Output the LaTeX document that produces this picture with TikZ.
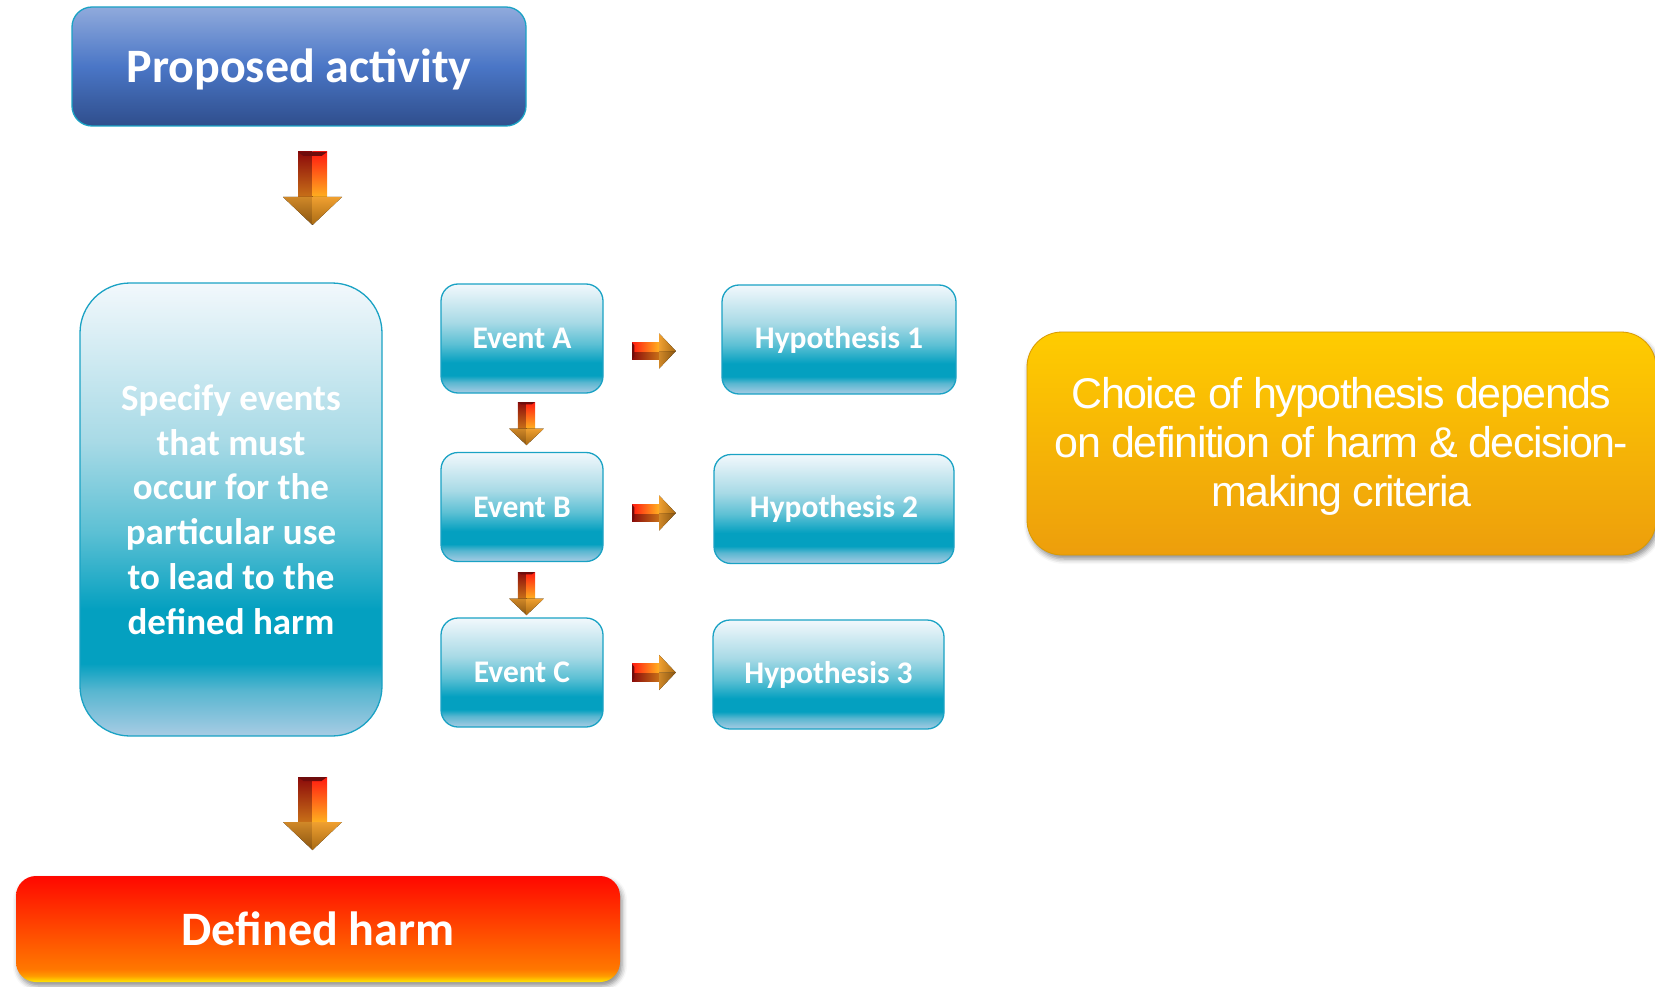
\documentclass[tikz,border=0pt]{standalone}
\usepackage{fontspec}
\setmainfont{Carlito}
\newfontfamily\notefont{Liberation Sans}[LetterSpace=-3.5]
\usetikzlibrary{calc,shadows.blur}

% box colours
\definecolor{tlA}{HTML}{A8CCE4}
\definecolor{tlB}{HTML}{58B6D0}
\definecolor{tlC}{HTML}{04A0C0}
\definecolor{tlD}{HTML}{5CC0D4}
\definecolor{tlE}{HTML}{A8DAE6}
\definecolor{tlF}{HTML}{F2F8FC}
\definecolor{tealedge}{HTML}{1AA2C4}
\definecolor{blA}{HTML}{2F4E8C}
\definecolor{blB}{HTML}{4A76C6}
\definecolor{blC}{HTML}{90AADC}
\definecolor{ylA}{HTML}{ED9E0C}
\definecolor{ylB}{HTML}{FFCC00}
\definecolor{ylEdge}{HTML}{D99A00}
\definecolor{rdA}{HTML}{FFE600}
\definecolor{rdB}{HTML}{FF9A00}
\definecolor{rdC}{HTML}{FF7800}
\definecolor{rdD}{HTML}{FF0800}
% block arrow colours
\definecolor{arLtop}{HTML}{8C0A0A}
\definecolor{arLbot}{HTML}{C87018}
\definecolor{arRtop}{HTML}{FF1A10}
\definecolor{arRbot}{HTML}{FFB020}
\definecolor{arCap}{HTML}{6E0C0C}
\definecolor{arHLtop}{HTML}{D08828}
\definecolor{arHLbot}{HTML}{8A5510}
\definecolor{arHRtop}{HTML}{F0A030}
\definecolor{arHRbot}{HTML}{A86A14}

\pgfdeclareverticalshading{tealgloss}{100bp}{color(0bp)=(tlA); color(25bp)=(tlA);
  color(30bp)=(tlB); color(33bp)=(tlC); color(39bp)=(tlC); color(47.5bp)=(tlD);
  color(57.5bp)=(tlE); color(75bp)=(tlF); color(100bp)=(tlF)}
\pgfdeclareverticalshading{bluegloss}{100bp}{color(0bp)=(blA); color(25bp)=(blA);
  color(50bp)=(blB); color(75bp)=(blC); color(100bp)=(blC)}
\pgfdeclareverticalshading{ambergloss}{100bp}{color(0bp)=(ylA); color(25bp)=(ylA);
  color(75bp)=(ylB); color(100bp)=(ylB)}
\pgfdeclareverticalshading{firegloss}{100bp}{color(0bp)=(rdA); color(25bp)=(rdA);
  color(28bp)=(rdB); color(31bp)=(rdC); color(75bp)=(rdD); color(100bp)=(rdD)}

% 3D block arrow: #1 tail position, #2 rotation, #3 scale, #4 shading angle
\newcommand\blockarrow[4]{%
  \begin{scope}[shift={#1},rotate=#2,scale=#3]
    \fill[top color=arLtop,bottom color=arLbot,shading angle=#4]
      (-14.5,0) -- (0,0) -- (0,45) -- (-14.5,45) -- cycle;
    \fill[top color=arRtop,bottom color=arRbot,shading angle=#4]
      (0,0) -- (14.5,0) -- (14.5,45) -- (0,45) -- cycle;
    \fill[arCap] (-14.5,0) -- (14.5,0) -- (9,4) -- (-9,4) -- cycle;
    \fill[top color=arHLtop,bottom color=arHLbot,shading angle=#4]
      (-29.5,45) -- (0,45) -- (0,73) -- cycle;
    \fill[top color=arHRtop,bottom color=arHRbot,shading angle=#4]
      (0,45) -- (29.5,45) -- (0,73) -- cycle;
  \end{scope}}

\begin{document}
\begin{tikzpicture}[x=1pt,y=-1pt,
  glossbox/.style={inner sep=0pt, text=white, align=center},
  tealbox/.style={glossbox, draw=tealedge, line width=1.3pt, shade, shading=tealgloss},
  eventbox/.style={tealbox, rounded corners=17pt, minimum width=162pt, minimum height=109pt,
    font=\fontsize{31.5}{38}\selectfont\bfseries},
  hypbox/.style={tealbox, rounded corners=17pt, minimum height=109pt,
    font=\fontsize{31.5}{38}\selectfont\bfseries},
  liftshadow/.style={blur shadow={shadow xshift=2pt, shadow yshift=-4pt,
    shadow blur radius=5pt, shadow opacity=45}}]
\useasboundingbox (0,0) rectangle (1655,987);

% main chain
\node[glossbox, draw=tealedge, line width=1.3pt, shade, shading=bluegloss,
  rounded corners=20pt, minimum width=454pt, minimum height=119pt,
  text height=42pt, text depth=9.3pt,
  font=\fontsize{48}{58}\selectfont\bfseries] (prop) at (299,66.5) {Proposed activity};

\node[tealbox, rounded corners=50pt, minimum width=302pt, minimum height=453pt,
  font=\fontsize{37}{44.8}\selectfont\bfseries] (spec) at (231,509.5)
  {Specify events\\that must\\occur for the\\particular use\\to lead to the\\defined harm};

\node[glossbox, shade, shading=firegloss, liftshadow, rounded corners=20pt,
  minimum width=604pt, minimum height=106pt,
  font=\fontsize{48}{58}\selectfont\bfseries] (harm) at (318,929) {Defined harm};

% events
\node[eventbox] (evA) at (522,338.5) {Event A};
\node[eventbox] (evB) at (522,507) {Event B};
\node[eventbox] (evC) at (522,672.5) {Event C};

% hypotheses
\node[hypbox, minimum width=234pt] (hypA) at (839,339.5) {Hypothesis 1};
\node[hypbox, minimum width=240pt] (hypB) at (834,509) {Hypothesis 2};
\node[hypbox, minimum width=231pt] (hypC) at (828.5,674.5) {Hypothesis 3};

% note
\node[glossbox, draw=ylEdge, line width=0.8pt, shade, shading=ambergloss, liftshadow,
  rounded corners=35pt, minimum width=629pt, minimum height=223pt,
  font=\notefont\fontsize{43}{49}\selectfont] (note) at (1341.5,443.5)
  {\rule{0pt}{37.5pt}Choice of hypothesis depends\\on definition of harm \& decision-\\making criteria};

% block arrows
\blockarrow{(312.5,152)}{0}{1}{0}
\blockarrow{(312.5,777)}{0}{1}{0}
\blockarrow{(526.5,402)}{0}{0.59}{0}
\blockarrow{(526.5,572)}{0}{0.59}{0}
\blockarrow{(632,351)}{90}{0.6}{90}
\blockarrow{(632,513)}{90}{0.6}{90}
\blockarrow{(632,672.5)}{90}{0.6}{90}
\end{tikzpicture}
\end{document}
